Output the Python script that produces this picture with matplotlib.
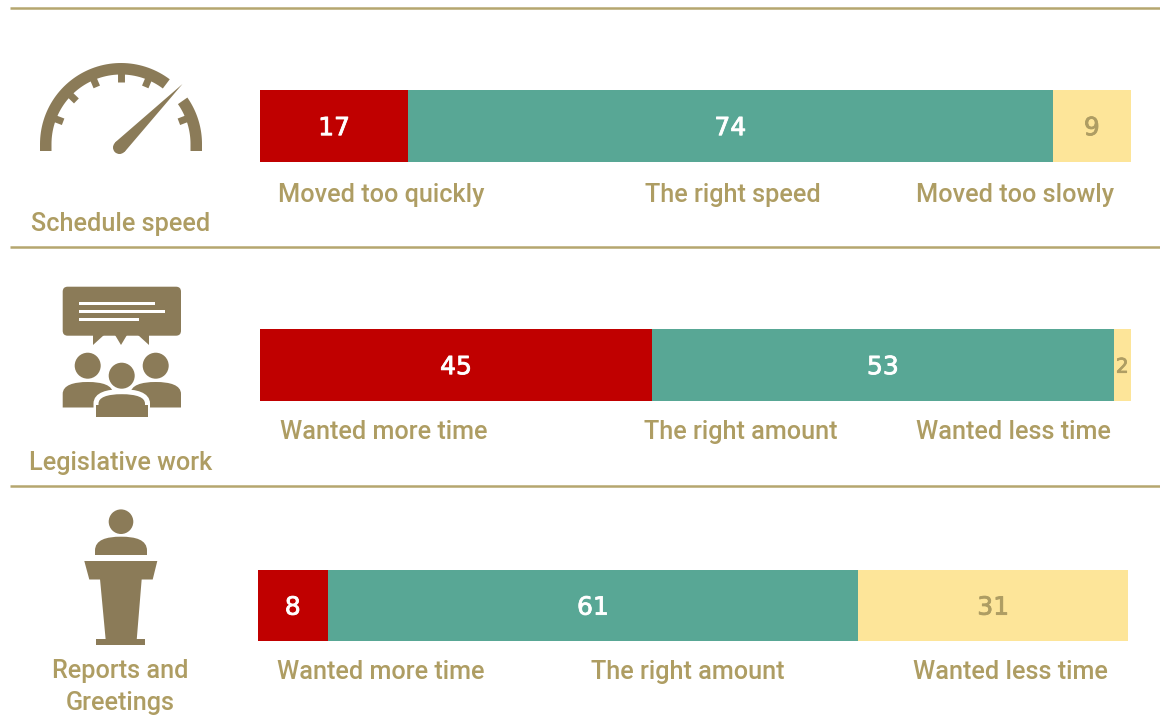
import numpy as np
import matplotlib
matplotlib.use("Agg")
import matplotlib.pyplot as plt
import matplotlib.patheffects as pe
from matplotlib.patches import Circle, Polygon, Rectangle, FancyBboxPatch, PathPatch
from matplotlib.path import Path

# data
categories = ["Schedule speed", "Legislative work", "Reports and\nGreetings"]
first_vals = [17, 45, 8]
middle_vals = [74, 53, 61]
last_vals = [9, 2, 31]
first_labels = ["Moved too quickly", "Wanted more time", "Wanted more time"]
middle_labels = ["The right speed", "The right amount", "The right amount"]
last_labels = ["Moved too slowly", "Wanted less time", "Wanted less time"]

W, H = 1160, 720
RED = "#c00000"
TEAL = "#58a795"
YELLOW = "#fde599"
GOLD = "#ae9d63"
ICON = "#8b7b58"
RULE = "#b5a66f"
LABEL_FONT = "Roboto"

# pixel boxes of the bars: left, right, top, bottom
bar_boxes = [(260, 1131, 90, 162), (260, 1131, 329, 401), (258, 1128, 570, 641)]
label_y = [195, 432, 672]
label_x = [(278, 645, 916), (280, 644, 916), (277, 591, 913)]
cat_y = [224, 463, 687]

fig = plt.figure(figsize=(W / 100, H / 100), dpi=100, facecolor="white")

# page layer in pixel coords for rules, icons and text
page = fig.add_axes([0, 0, 1, 1])
page.set_xlim(0, W)
page.set_ylim(H, 0)
page.axis("off")

for y in [7.5, 247, 486]:
    page.plot([10, W], [y, y], color=RULE, lw=1.8, solid_capstyle="butt")

# bars
for i, box in enumerate(bar_boxes):
    l, r, t, b = box
    ax = fig.add_axes([l / W, 1 - b / H, (r - l) / W, (b - t) / H])
    vals = [first_vals[i], middle_vals[i], last_vals[i]]
    lefts = np.cumsum([0] + vals[:-1])
    ax.barh([0], [vals[0]], left=lefts[0], height=1, color=RED)
    ax.barh([0], [vals[1]], left=lefts[1], height=1, color=TEAL)
    ax.barh([0], [vals[2]], left=lefts[2], height=1, color=YELLOW)
    ax.set_xlim(0, 100)
    ax.set_ylim(-0.5, 0.5)
    ax.axis("off")
    for v, lf, col in zip(vals, lefts, ["white", "white", GOLD]):
        size = 14.5 if v < 5 else 18
        txt = ax.text(lf + v / 2, -0.03, str(v), color=col, fontsize=size,
                      family="DejaVu Sans", ha="center", va="center")
        # digits are a bit heavier than DejaVu regular
        txt.set_path_effects([pe.withStroke(linewidth=0.6, foreground=col)])

# captions under the bars
for i in range(3):
    for x, txt in zip(label_x[i], (first_labels[i], middle_labels[i], last_labels[i])):
        page.text(x, label_y[i], txt, color=GOLD, fontsize=18.2, family=LABEL_FONT,
                  fontweight="medium", ha="left", va="center")
    page.text(120.5, cat_y[i], categories[i], color=GOLD, fontsize=18.2, family=LABEL_FONT,
              fontweight="medium", ha="center", va="center", linespacing=1.42)


def add(p):
    page.add_patch(p)
    return p


def ring_piece(a0, a1, legs=None):
    # piece of the gauge ring, angles in degrees, optional straight legs at the bottom
    t = np.radians(np.linspace(a0, a1, 60))
    outer = [(cx + 81 * np.cos(a), cy - 81 * np.sin(a)) for a in t]
    inner = [(cx + 69.5 * np.cos(a), cy - 69.5 * np.sin(a)) for a in t[::-1]]
    pts = outer + inner
    if legs == "left":
        pts = outer + [(cx - 81, 151), (cx - 69.5, 151)] + inner
    if legs == "right":
        pts = outer + inner + [(cx + 69.5, 151), (cx + 81, 151)]
    add(Polygon(pts, closed=True, color=ICON, lw=0))


# gauge icon
cx, cy = 121, 144
ring_piece(53, 180, "left")
ring_piece(0, 35, "right")
for a in [21, 67, 90, 113, 136, 159]:
    t = np.radians(a)
    page.plot([cx + 71 * np.cos(t), cx + 62 * np.cos(t)], [cy - 71 * np.sin(t), cy - 62 * np.sin(t)],
              color=ICON, lw=5, solid_capstyle="butt")
add(Circle((119.5, 147.5), 6.5, color=ICON, lw=0))
add(Polygon([(182.5, 84), (115, 142.5), (124.5, 152)], closed=True, color=ICON, lw=0))

# meeting icon
add(FancyBboxPatch((67.7, 291.7), 108.3, 39, boxstyle="round,pad=5,rounding_size=5", color=ICON, lw=0))
add(Polygon([(93, 335), (93, 345), (104, 335)], closed=True, color=ICON, lw=0))
add(Polygon([(115, 335), (121, 345), (127, 335)], closed=True, color=ICON, lw=0))
add(Polygon([(138, 335), (149, 345), (149, 335)], closed=True, color=ICON, lw=0))
for y, x1 in [(303, 155), (311, 165), (319.3, 139)]:
    add(Rectangle((79, y - 1.5), x1 - 79, 3, color="white", lw=0))


def body(x0, x1, top, bottom, side=12, **kw):
    # dome shaped shoulders
    w = x1 - x0
    mid = (x0 + x1) / 2
    verts = [(x0, bottom), (x0, top + side), (x0, top + 3), (x0 + 0.22 * w, top), (mid, top),
             (x1 - 0.22 * w, top), (x1, top + 3), (x1, top + side), (x1, bottom), (x0, bottom)]
    codes = [Path.MOVETO, Path.LINETO, Path.CURVE4, Path.CURVE4, Path.CURVE4,
             Path.CURVE4, Path.CURVE4, Path.CURVE4, Path.LINETO, Path.CLOSEPOLY]
    return add(PathPatch(Path(verts, codes), **kw))


for hx in [87.7, 155.7]:
    add(Circle((hx, 365.7), 13, color=ICON, lw=0))
body(62.7, 113, 382, 407.5, fc=ICON, ec="none")
body(130.5, 181, 382, 407.5, fc=ICON, ec="none")
body(96, 147.5, 391.7, 417, fc=ICON, ec="white", lw=3.6)
add(Rectangle((94, 409), 56, 10, color="white", lw=0))
add(Rectangle((96, 405), 51.5, 12, color=ICON, lw=0))
add(Circle((121.7, 375.7), 13, fc=ICON, ec="none"))

# lectern icon
add(Circle((121, 521.7), 12.3, color=ICON, lw=0))
body(95, 147, 536.7, 555, side=14, fc=ICON, ec="none")
add(Polygon([(84.3, 561), (157.3, 561), (152.7, 579.5), (89.3, 579.5)], closed=True, color=ICON, lw=0))
add(Polygon([(100, 579), (141.7, 579), (136.7, 640), (105.7, 640)], closed=True, color=ICON, lw=0))
add(Rectangle((96.3, 639.3), 49, 5.7, color=ICON, lw=0))

fig.savefig("out.png", dpi=100)
